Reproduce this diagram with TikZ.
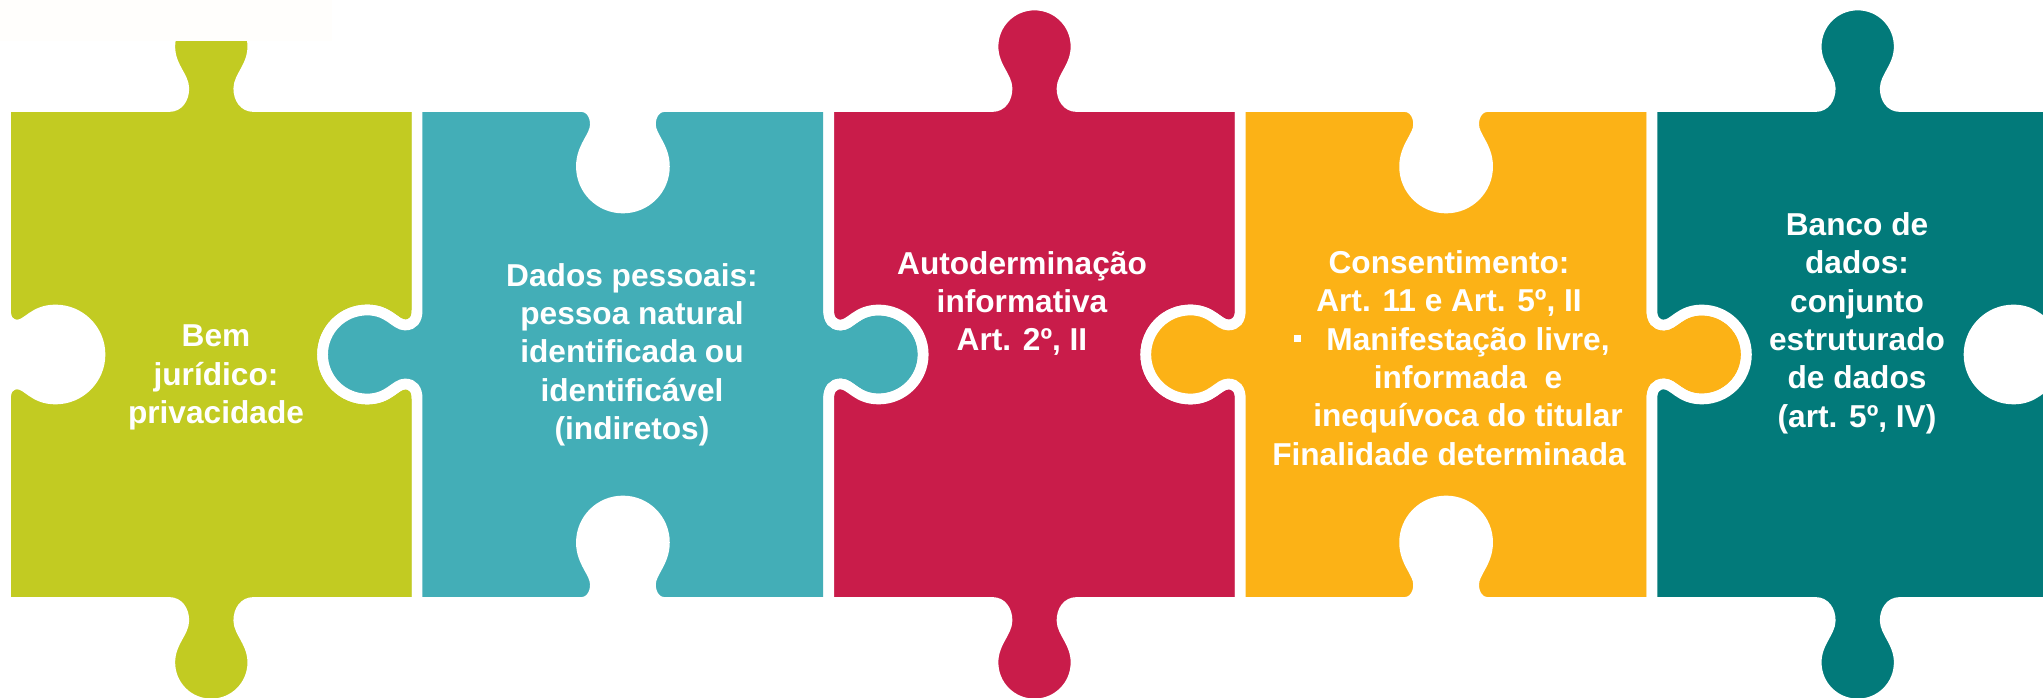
\documentclass[tikz,border=0pt]{standalone}
\usepackage{fontspec}
\setmainfont{Liberation Sans}

\definecolor{verde}{RGB}{194,203,34}
\definecolor{turquesa}{RGB}{67,174,183}
\definecolor{carmim}{RGB}{201,28,74}
\definecolor{amarelo}{RGB}{252,178,22}
\definecolor{petroleo}{RGB}{2,122,122}
\definecolor{fundo}{RGB}{255,254,252}

% knob on a top/bottom edge: centre x, edge y, direction along edge, side
\newcommand{\vknob}[4]{%
  -- ({#1+(#3)*(-42)},#2)
  .. controls ({#1+(#3)*(-33)},#2) and ({#1+(#3)*(-27.5)},{#2+(#4)*8}) .. ({#1+(#3)*(-27.5)},{#2+(#4)*18})
  .. controls ({#1+(#3)*(-27.5)},{#2+(#4)*30}) and ({#1+(#3)*(-41.5)},{#2+(#4)*40}) .. ({#1+(#3)*(-41.5)},{#2+(#4)*60})
  .. controls ({#1+(#3)*(-41.5)},{#2+(#4)*83}) and ({#1+(#3)*(-23)},{#2+(#4)*101.5}) .. (#1,{#2+(#4)*101.5})
  .. controls ({#1+(#3)*23},{#2+(#4)*101.5}) and ({#1+(#3)*41.5},{#2+(#4)*83}) .. ({#1+(#3)*41.5},{#2+(#4)*60})
  .. controls ({#1+(#3)*41.5},{#2+(#4)*40}) and ({#1+(#3)*27.5},{#2+(#4)*30}) .. ({#1+(#3)*27.5},{#2+(#4)*18})
  .. controls ({#1+(#3)*27.5},{#2+(#4)*8}) and ({#1+(#3)*33},#2) .. ({#1+(#3)*42},#2)}
% knob on a left/right edge: edge x, centre y, direction along edge, side
\newcommand{\hknob}[4]{%
  -- (#1,{#2+(#3)*(-44)})
  .. controls (#1,{#2+(#3)*(-35)}) and ({#1+(#4)*4},{#2+(#3)*(-29.5)}) .. ({#1+(#4)*12},{#2+(#3)*(-29.5)})
  .. controls ({#1+(#4)*22},{#2+(#3)*(-29.5)}) and ({#1+(#4)*28},{#2+(#3)*(-44.5)}) .. ({#1+(#4)*50},{#2+(#3)*(-44.5)})
  .. controls ({#1+(#4)*74.5},{#2+(#3)*(-44.5)}) and ({#1+(#4)*94.5},{#2+(#3)*(-24.6)}) .. ({#1+(#4)*94.5},#2)
  .. controls ({#1+(#4)*94.5},{#2+(#3)*24.6}) and ({#1+(#4)*74.5},{#2+(#3)*44.5}) .. ({#1+(#4)*50},{#2+(#3)*44.5})
  .. controls ({#1+(#4)*28},{#2+(#3)*44.5}) and ({#1+(#4)*22},{#2+(#3)*29.5}) .. ({#1+(#4)*12},{#2+(#3)*29.5})
  .. controls ({#1+(#4)*4},{#2+(#3)*29.5}) and (#1,{#2+(#3)*35}) .. (#1,{#2+(#3)*44})}

\tikzset{
  peca/.style={draw=white, line width=1.07mm},
  texto/.style={text=white, font=\bfseries\fontsize{9}{10.9}\selectfont, align=center, inner sep=0pt}
}

\begin{document}
\begin{tikzpicture}[x=0.01cm, y=-0.01cm]
  \useasboundingbox (0,0) rectangle (2043,698);
  \filldraw [peca, fill=verde] (5.5,106.5) \vknob{211.3}{106.5}{1}{-1} -- (417.1,106.5) \hknob{417.1}{354.5}{1}{-1}
    -- (417.1,602.5) \vknob{211.3}{602.5}{-1}{1} -- (5.5,602.5) \hknob{5.5}{354.5}{-1}{1} -- cycle;
  \filldraw [peca, fill=turquesa] (417.1,106.5) \vknob{622.9}{106.5}{1}{1} -- (828.7,106.5) \hknob{828.7}{354.5}{1}{1}
    -- (828.7,602.5) \vknob{622.9}{602.5}{-1}{-1} -- (417.1,602.5) \hknob{417.1}{354.5}{-1}{-1} -- cycle;
  \filldraw [peca, fill=carmim] (828.7,106.5) \vknob{1034.5}{106.5}{1}{-1} -- (1240.3,106.5) \hknob{1240.3}{354.5}{1}{-1}
    -- (1240.3,602.5) \vknob{1034.5}{602.5}{-1}{1} -- (828.7,602.5) \hknob{828.7}{354.5}{-1}{1} -- cycle;
  \filldraw [peca, fill=amarelo] (1240.3,106.5) \vknob{1446.1}{106.5}{1}{1} -- (1651.9,106.5) \hknob{1651.9}{354.5}{1}{1}
    -- (1651.9,602.5) \vknob{1446.1}{602.5}{-1}{-1} -- (1240.3,602.5) \hknob{1240.3}{354.5}{-1}{-1} -- cycle;
  \filldraw [peca, fill=petroleo] (1651.9,106.5) \vknob{1857.7}{106.5}{1}{-1} -- (2063.5,106.5) \hknob{2063.5}{354.5}{1}{-1}
    -- (2063.5,602.5) \vknob{1857.7}{602.5}{-1}{1} -- (1651.9,602.5) \hknob{1651.9}{354.5}{-1}{1} -- cycle;
  \fill [fundo] (0,0) rectangle (332,41);

  \node [texto] (bem) at (216,377.5) {Bem\\jurídico:\\privacidade};
  \node [texto] (dados) at (632,354.5) {Dados pessoais:\\pessoa natural\\identificada ou\\identificável\\(indiretos)};
  \node [texto] (autodet) at (1022,303.5) {Autoderminação\\informativa\\Art. 2º, II};
  \node [texto] (consent) at (1449,358) {Consentimento:\\Art. 11 e Art. 5º, II\\
    \hspace*{0.38cm}\llap{\raisebox{0.08cm}{\rule{0.07cm}{0.07cm}}\hspace{0.25cm}}Manifestação livre,\\
    \hspace*{0.38cm}informada~ e\\\hspace*{0.38cm}inequívoca do titular\\Finalidade determinada};
  \node [texto] (banco) at (1857,323) {Banco de\\dados:\\conjunto\\estruturado\\de dados\\(art. 5º, IV)};
\end{tikzpicture}
\end{document}
